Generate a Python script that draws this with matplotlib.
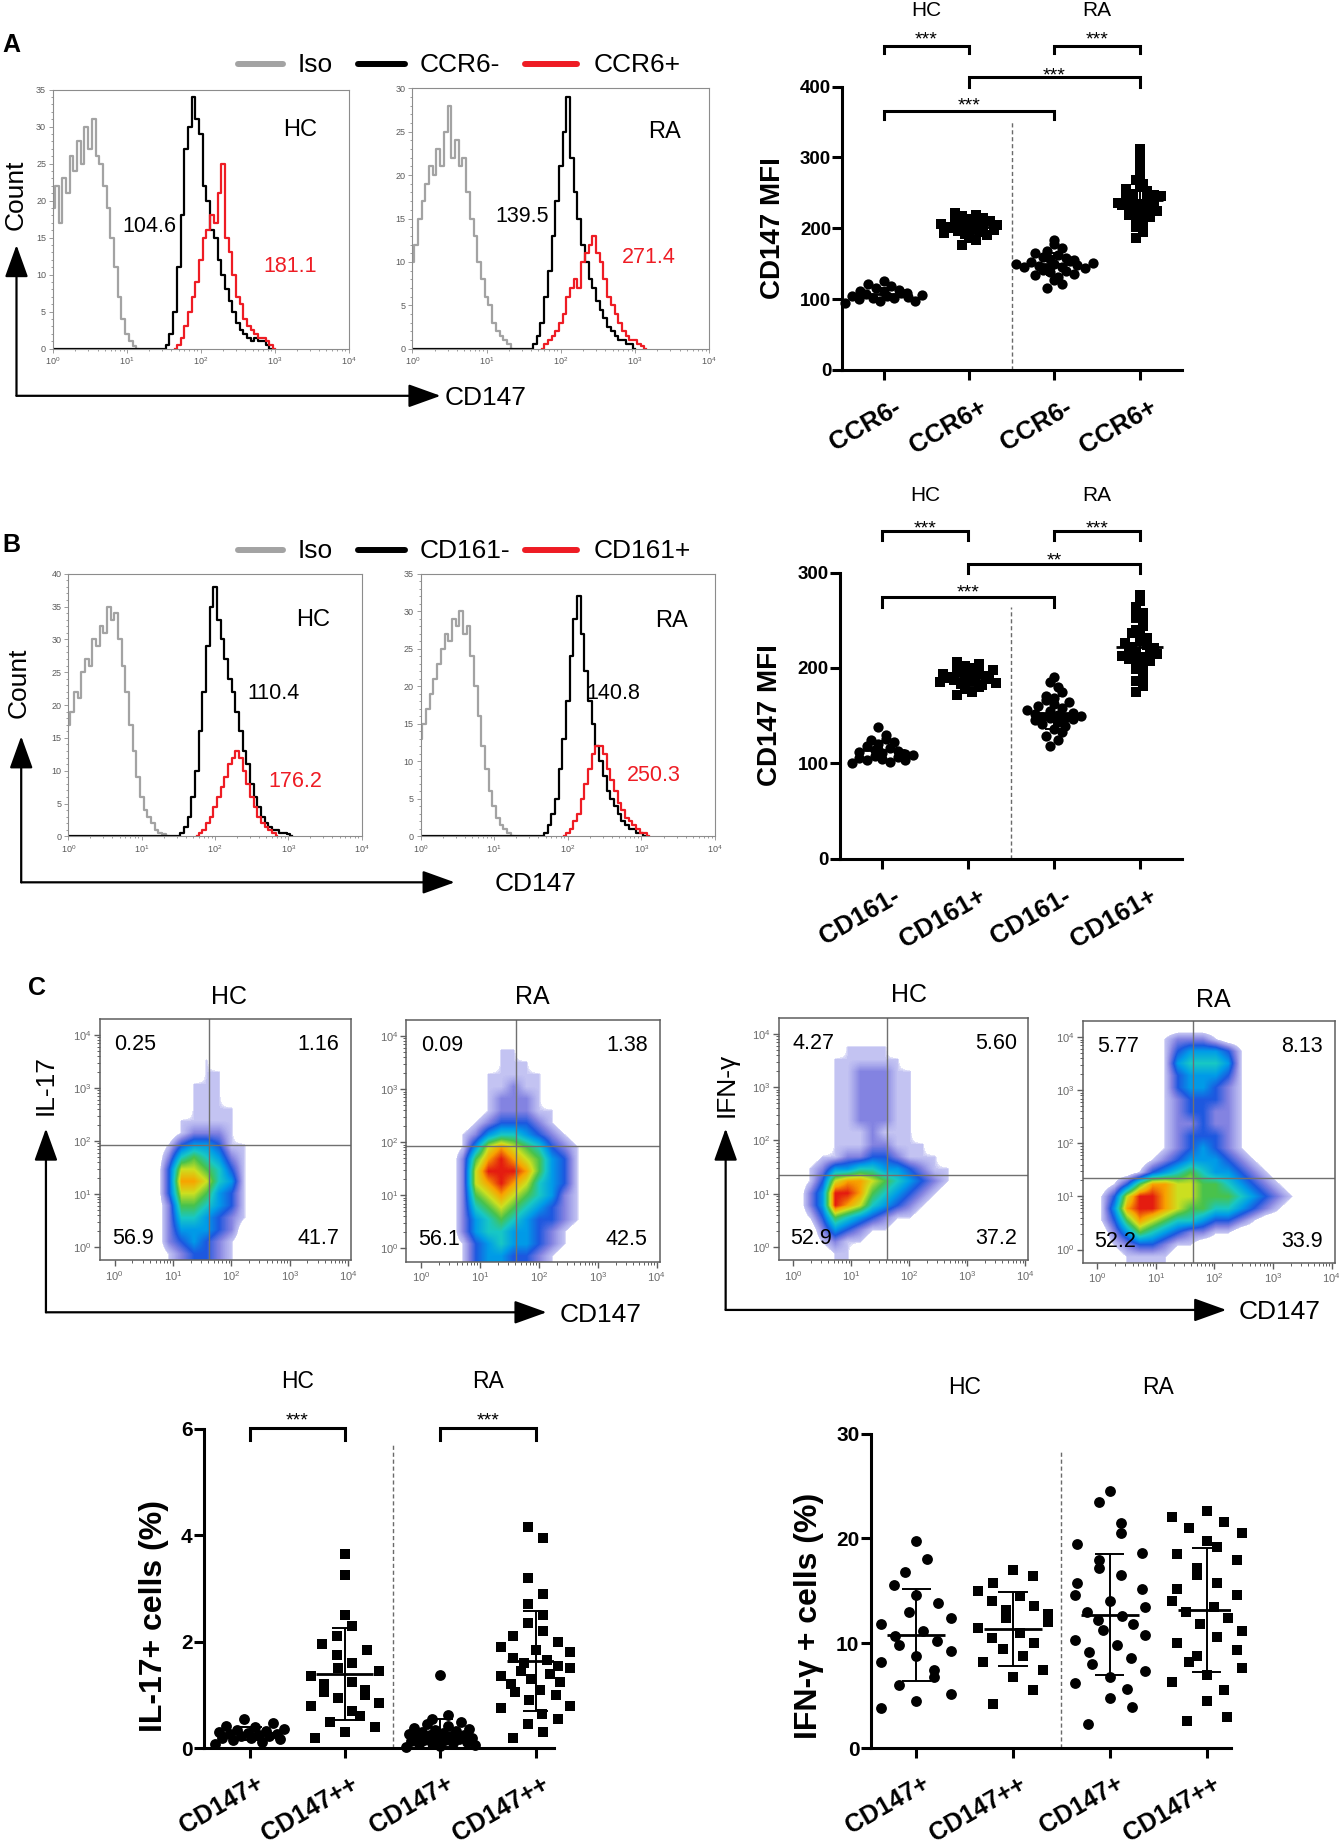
import numpy as np
import matplotlib
matplotlib.use("Agg")
import matplotlib.pyplot as plt
from matplotlib.colors import LinearSegmentedColormap, Normalize
from matplotlib.ticker import MultipleLocator, FixedLocator, NullFormatter
from matplotlib.transforms import ScaledTranslation

plt.rcParams["font.family"] = ["Liberation Sans", "DejaVu Sans"]
plt.rcParams["mathtext.fontset"] = "custom"
plt.rcParams["mathtext.rm"] = "Liberation Sans"
plt.rcParams["mathtext.it"] = "Liberation Sans:italic"
plt.rcParams["mathtext.bf"] = "Liberation Sans:bold"

# ---------------------------------------------------------------------------
# histogram counts, one value per 0.05-decade bin, first bin at *_from (log10)
HIST_BIN = 0.05
a_hc_iso_from, a_hc_iso = 0.0, [19, 22, 17, 23, 21, 26, 24, 28, 25, 30, 27, 31, 26, 25, 22, 19, 15, 11, 7, 4, 2, 1, 0.4]
a_hc_neg_from, a_hc_neg = 1.55, [0.5, 2, 5, 11, 18, 27, 30, 34, 31, 29, 22, 20, 16, 15, 12, 10, 8, 6.5, 5, 3.5, 2.5, 2, 1.5, 1, 1.5, 1, 1, 0.5]
a_hc_pos_from, a_hc_pos = 1.70, [0.5, 1.5, 3, 5, 7, 9, 12, 15, 16, 18, 17, 21, 25, 15, 13, 10, 7, 6, 4, 3, 2.5, 2, 1.5, 1.5, 1, 0.5]
a_ra_iso_from, a_ra_iso = 0.0, [10, 12, 15, 17, 19, 21, 20, 23, 21, 25, 28, 22, 24, 21, 22, 18, 15, 13, 10, 8, 6, 5, 3, 2, 1.5, 1, 0.5]
a_ra_neg_from, a_ra_neg = 1.65, [0.5, 1.5, 3, 6, 9, 13, 17, 21, 25, 29, 22, 18, 15, 12, 10, 8, 7, 5.5, 4.5, 3.5, 2.5, 2, 1.5, 1, 1, 0.5, 0.5]
a_ra_pos_from, a_ra_pos = 1.80, [0.5, 1, 1.5, 2, 3, 4, 6, 7, 8, 7, 10, 11, 12, 13, 11, 10, 8, 6, 5, 4, 3, 2, 1.5, 1, 1, 0.5, 0.3]

b_hc_iso_from, b_hc_iso = 0.0, [17, 19, 22, 21, 25, 27, 26, 30, 29, 32, 31, 35, 33, 34, 30, 26, 22, 17, 13, 9, 6, 4, 3, 2, 1, 0.5, 0.3]
b_hc_neg_from, b_hc_neg = 1.55, [0.5, 1.5, 3, 6, 10, 16, 22, 29, 35, 38, 33, 30, 27, 24, 22, 19, 16, 13, 11, 8, 6, 4.5, 3, 2, 1.5, 1, 1, 0.5, 0.5, 0.3]
b_hc_pos_from, b_hc_pos = 1.80, [0.5, 1, 2, 3, 4.5, 6, 7.5, 9, 11, 12, 13, 12, 10, 8, 6, 4.5, 3, 2, 1.5, 1, 0.5]
b_ra_iso_from, b_ra_iso = 0.0, [13, 15, 17, 19, 21, 23, 25, 27, 26, 29, 28, 30, 27, 28, 24, 20, 16, 12, 9, 6, 4, 2.5, 1.5, 1, 0.5]
b_ra_neg_from, b_ra_neg = 1.70, [0.5, 1.5, 3, 5, 9, 13, 18, 24, 29, 32, 27, 22, 18, 15, 12, 10, 8, 6, 5, 4, 3, 2, 1.5, 1, 1, 0.5, 0.5]
b_ra_pos_from, b_ra_pos = 2.00, [0.5, 1, 2, 3, 5, 7, 9, 11, 12, 12, 11, 9, 7.5, 6, 4.5, 3.5, 2.5, 2, 1.5, 1, 0.5, 0.5]

a_hist_mfi = {"HC": ("104.6", "181.1"), "RA": ("139.5", "271.4")}
b_hist_mfi = {"HC": ("110.4", "176.2"), "RA": ("140.8", "250.3")}

# per-donor MFI values
a_hc_ccr6neg = [95, 97, 98, 100, 101, 102, 103, 104, 105, 106, 107, 108, 109, 110, 111, 113, 115, 118, 121, 125]
a_hc_ccr6pos = [176, 184, 187, 190, 192, 194, 195, 196, 198, 199, 200, 201, 202, 203, 204, 205, 206, 208, 209, 211, 213, 215, 217, 219, 221]
a_ra_ccr6neg = [115, 122, 127, 131, 134, 136, 138, 140, 141, 143, 144, 145, 146, 147, 148, 149, 150, 151, 152, 154, 155, 157, 158, 160, 162, 165, 168, 172, 178, 184]
a_ra_ccr6pos = [186, 195, 202, 208, 212, 216, 219, 222, 224, 226, 228, 230, 232, 233, 235, 236, 238, 240, 241, 243, 245, 247, 249, 252, 255, 258, 262, 268, 276, 285, 298, 312]
a_labels = ["CCR6-", "CCR6+", "CCR6-", "CCR6+"]

b_hc_cd161neg = [100, 101, 103, 104, 105, 106, 107, 108, 109, 110, 111, 112, 113, 114, 116, 118, 120, 122, 124, 126, 130, 138]
b_hc_cd161pos = [172, 175, 178, 180, 182, 183, 184, 185, 186, 187, 188, 188, 189, 190, 191, 192, 193, 194, 195, 196, 198, 200, 202, 204, 206]
b_ra_cd161neg = [118, 124, 129, 133, 136, 139, 141, 143, 145, 146, 147, 148, 149, 150, 151, 152, 153, 155, 156, 158, 160, 162, 164, 166, 168, 171, 175, 180, 185, 190]
b_ra_cd161pos = [175, 181, 186, 191, 195, 199, 202, 205, 207, 209, 211, 213, 215, 216, 218, 219, 221, 222, 224, 226, 228, 231, 234, 237, 240, 244, 248, 253, 258, 264, 270, 276]
b_labels = ["CD161-", "CD161+", "CD161-", "CD161+"]

# percent positive cells
il17_hc_cd147 = [0.08, 0.12, 0.15, 0.17, 0.19, 0.2, 0.22, 0.23, 0.25, 0.26, 0.27, 0.28, 0.3, 0.32, 0.34, 0.36, 0.39, 0.42, 0.48, 0.55]
il17_hc_cd147hi = [0.2, 0.3, 0.4, 0.5, 0.6, 0.7, 0.8, 0.85, 0.95, 1.0, 1.05, 1.1, 1.2, 1.25, 1.35, 1.45, 1.5, 1.6, 1.75, 1.85, 1.95, 2.1, 2.3, 2.5, 3.25, 3.65]
il17_ra_cd147 = [0.02, 0.04, 0.06, 0.08, 0.09, 0.1, 0.12, 0.13, 0.15, 0.16, 0.18, 0.19, 0.2, 0.21, 0.22, 0.24, 0.25, 0.27, 0.28, 0.3, 0.32, 0.34, 0.36, 0.38, 0.42, 0.46, 0.5, 0.55, 0.62, 1.38]
il17_ra_cd147hi = [0.2, 0.3, 0.45, 0.55, 0.65, 0.75, 0.8, 0.9, 1.0, 1.05, 1.1, 1.2, 1.25, 1.3, 1.35, 1.4, 1.45, 1.5, 1.55, 1.6, 1.65, 1.7, 1.8, 1.85, 1.9, 2.0, 2.1, 2.2, 2.35, 2.5, 2.7, 2.9, 3.2, 3.95, 4.15]
ifng_hc_cd147 = [3.8, 4.5, 5.2, 6.0, 6.8, 7.5, 8.2, 8.8, 9.3, 9.8, 10.2, 10.7, 11.2, 11.8, 12.4, 13.0, 13.8, 14.6, 15.6, 16.8, 18.0, 19.8]
ifng_hc_cd147hi = [4.2, 5.5, 6.8, 7.5, 8.2, 8.8, 9.5, 10.0, 10.5, 11.0, 11.5, 12.0, 12.4, 12.8, 13.2, 13.6, 14.0, 14.5, 15.0, 15.8, 16.4, 17.0]
ifng_ra_cd147 = [2.3, 3.9, 4.8, 5.6, 6.2, 6.8, 7.4, 8.0, 8.6, 9.2, 9.8, 10.3, 10.8, 11.3, 11.8, 12.2, 12.6, 13.0, 13.5, 14.0, 14.6, 15.2, 15.8, 16.5, 17.2, 17.9, 18.6, 19.5, 20.5, 21.5, 23.5, 24.5]
ifng_ra_cd147hi = [2.6, 3.0, 4.5, 5.5, 6.3, 7.0, 7.6, 8.2, 8.8, 9.4, 10.0, 10.6, 11.2, 11.8, 12.4, 13.0, 13.5, 14.0, 14.6, 15.2, 15.8, 16.5, 17.2, 17.9, 18.5, 19.2, 19.8, 20.5, 21.0, 21.6, 22.0, 22.6]
c_labels = ["CD147+", "CD147++", "CD147+", "CD147++"]

# flow dot-plot density (0 = empty ... 9 = densest), 20x20 cells, top row first
il17_hc_density = [
    "00000000000000000000", "00000000000000000000", "00000000000000000000",
    "00000000100000000000", "00000000110000000000", "00000001110000000000",
    "00000001110000000000", "00000001111000000000", "00000011111000000000",
    "00000012221000000000", "00000134431100000000", "00000256542100000000",
    "00000377653100000000", "00000388754100000000", "00000377643100000000",
    "00000266543100000000", "00000255432100000000", "00000244432000000000",
    "00000234321000000000", "00000123321000000000"]
il17_ra_density = [
    "00000000000000000000", "00000000000000000000", "00000001100000000000",
    "00000001110000000000", "00000011111000000000", "00000011211000000000",
    "00000012221000000000", "00000012221100000000", "00000123332100000000",
    "00001245543210000000", "00001478765321000000", "00002689876431000000",
    "00002799986431000000", "00002789875431000000", "00002678765421000000",
    "00002567654321000000", "00002456543321000000", "00002455443210000000",
    "00001345443210000000", "00001344332100000000"]
ifng_hc_density = [
    "00000000000000000000", "00000000000000000000", "00000111100000000000",
    "00001111110000000000", "00001122211000000000", "00001122211000000000",
    "00001122211000000000", "00001122211000000000", "00001122211000000000",
    "00001112111000000000", "00001112211100000000", "00011223321110000000",
    "00124455443211000000", "00137887654321000000", "00249986543210000000",
    "00249875432100000000", "00136543211000000000", "00024321100000000000",
    "00012110000000000000", "00001100000000000000"]
ifng_ra_density = [
    "00000000000000000000", "00000012221000000000", "00000013444310000000",
    "00000014555410000000", "00000013444310000000", "00000013443210000000",
    "00000012333210000000", "00000012332210000000", "00000012232210000000",
    "00000012333210000000", "00000012343210000000", "00000123444321000000",
    "00001345654432100000", "00136887766543210000", "01379987766654321000",
    "01489987665543210000", "01368765543321000000", "00246543221100000000",
    "00123321100000000000", "00011110000000000000"]

# quadrant gates (log10 x, log10 y) and quadrant percentages (UL, UR, LL, LR)
il17_hc_gate, il17_hc_quads = (1.61, 1.93), ["0.25", "1.16", "56.9", "41.7"]
il17_ra_gate, il17_ra_quads = (1.61, 1.93), ["0.09", "1.38", "56.1", "42.5"]
ifng_hc_gate, ifng_hc_quads = (1.62, 1.36), ["4.27", "5.60", "52.9", "37.2"]
ifng_ra_gate, ifng_ra_quads = (1.64, 1.35), ["5.77", "8.13", "52.2", "33.9"]

# ---------------------------------------------------------------------------
S = 1.178                      # layout below is in reference units (px / S)
PW, PH = 1339 / S, 1844 / S

fig = plt.figure(figsize=(13.39, 18.44), dpi=100)


def box(l, t, r, b):
    return [l / PW, 1 - b / PH, (r - l) / PW, (b - t) / PH]


GRAY, RED = "#a3a3a3", "#ee1c24"


def curve(ax, start, counts, color, from_zero=False):
    e = list(start + HIST_BIN * np.arange(len(counts)))
    c = list(counts)
    if start > 0:
        e = [start - HIST_BIN] + e
        c = [0] + c
        if from_zero:
            e = [0.0] + e
            c = [0] + c
    e.append(e[-1] + HIST_BIN)
    c.append(0)
    ax.plot(10 ** np.array(e), c, drawstyle="steps-mid", color=color, lw=1.6)


def histo(rect, iso, neg, pos, ymax):
    ax = fig.add_axes(box(*rect))
    curve(ax, *iso, GRAY)
    curve(ax, *neg, "black", from_zero=True)
    curve(ax, *pos, RED)
    ax.set_xscale("log")
    ax.set_xlim(1, 1e4)
    ax.set_ylim(0, ymax)
    ax.set_yticks(range(0, ymax + 1, 5))
    ax.yaxis.set_minor_locator(MultipleLocator(1))
    for sp in ax.spines.values():
        sp.set_color("#8c8c8c")
        sp.set_linewidth(0.8)
    ax.tick_params(which="both", colors="#8c8c8c", labelcolor="#5a5a5a",
                   labelsize=6.5, width=0.6, pad=2)
    ax.tick_params(which="major", length=3)
    ax.tick_params(which="minor", length=1.5)
    return ax


histo((45, 76, 296, 296), (a_hc_iso_from, a_hc_iso), (a_hc_neg_from, a_hc_neg), (a_hc_pos_from, a_hc_pos), 35)
histo((350, 75, 602, 296), (a_ra_iso_from, a_ra_iso), (a_ra_neg_from, a_ra_neg), (a_ra_pos_from, a_ra_pos), 30)
histo((58, 487, 307, 710), (b_hc_iso_from, b_hc_iso), (b_hc_neg_from, b_hc_neg), (b_hc_pos_from, b_hc_pos), 40)
histo((357, 487, 607, 710), (b_ra_iso_from, b_ra_iso), (b_ra_neg_from, b_ra_neg), (b_ra_pos_from, b_ra_pos), 35)


# ---------------------------------------------------------------------------
def spread_x(ax, xc, vals, diam, bin_fac, space_fac, max_half):
    """Column-scatter layout: points in the same y band are spread sideways."""
    pts = ax.transData.transform(np.column_stack([np.full(len(vals), float(xc)), vals]))
    y = pts[:, 1]
    band = np.floor((y - y.min()) / (diam * bin_fac)).astype(int)
    off = np.zeros(len(vals))
    for b in np.unique(band):
        idx = np.where(band == b)[0]
        idx = idx[np.argsort(y[idx])]
        k = len(idx)
        if k > 1:
            sp = min(diam * space_fac, 2 * max_half / (k - 1))
            slots = (np.arange(k) - (k - 1) / 2) * sp
            order = np.argsort((np.arange(k) * 0.618 + 0.31 * b) % 1.0)
            off[idx] = slots[order]
    back = ax.transData.inverted().transform(np.column_stack([pts[:, 0] + off, y]))
    return back[:, 0]


def star(ax, x, y, s, fs=14):
    ax.text(x, y, s, ha="center", va="baseline", fontsize=fs, clip_on=False,
            transform=ax.transData + ScaledTranslation(0, -0.62 * fs / 72, fig.dpi_scale_trans))


def bracket(ax, x1, x2, ytop, ytail, s, ytext):
    ax.plot([x1, x1, x2, x2], [ytail, ytop, ytop, ytail], color="black", lw=2.2,
            clip_on=False, solid_joinstyle="miter")
    star(ax, (x1 + x2) / 2, ytext, s)


def dot_panel(rect, xlim, ymax, ystep, groups, labels, tick_fs, xlab_fs, xlab_off,
              mw, cw, dash_top, ms=7.4, bin_fac=1.2, space_fac=0.85, half=0.42):
    ax = fig.add_axes(box(*rect))
    ax.set_xlim(*xlim)
    ax.set_ylim(0, ymax)
    cat_px = ax.transData.transform([[2, 0]])[0, 0] - ax.transData.transform([[1, 0]])[0, 0]
    for i, vals in enumerate(groups, start=1):
        mk = "o" if i % 2 else "s"
        size = ms if mk == "o" else ms * 0.92
        xs = spread_x(ax, i, vals, size * 100 / 72, bin_fac, space_fac, half * cat_px)
        ax.scatter(xs, vals, marker=mk, s=size ** 2, color="black", linewidths=0,
                   zorder=3, clip_on=False)
        m, sd = np.mean(vals), np.std(vals, ddof=1)
        ax.hlines(m, i - mw, i + mw, color="black", lw=2.0, zorder=4)
        ax.vlines(i, m - sd, m + sd, color="black", lw=1.4, zorder=4)
        ax.hlines([m - sd, m + sd], i - cw, i + cw, color="black", lw=1.4, zorder=4)
    ax.plot([2.5, 2.5], [0, dash_top], ls=(0, (3, 2)), color="#6a6a6a", lw=1.0)
    for side in ("top", "right"):
        ax.spines[side].set_visible(False)
    for side in ("left", "bottom"):
        ax.spines[side].set_linewidth(2.2)
    ax.set_yticks(np.arange(0, ymax + 0.01, ystep))
    ax.set_xticks([1, 2, 3, 4])
    ax.tick_params(width=2.2, length=7, labelsize=tick_fs, pad=1)
    for lbl in ax.get_yticklabels():
        lbl.set_fontweight("bold")
    ax.set_xticklabels(labels, rotation=30, ha="right", va="top", rotation_mode="anchor",
                       fontsize=xlab_fs, fontweight="bold")
    shift = ScaledTranslation(xlab_off[0] / 72, xlab_off[1] / 72, fig.dpi_scale_trans)
    for lbl in ax.get_xticklabels():
        lbl.set_transform(lbl.get_transform() + shift)
    return ax


ax = dot_panel((715, 73.6, 1003, 314), (0.517, 4.49), 400, 100,
               [a_hc_ccr6neg, a_hc_ccr6pos, a_ra_ccr6neg, a_ra_ccr6pos], a_labels,
               13.5, 18.5, (7, -10), 0.27, 0.1, 351, bin_fac=0.9, space_fac=0.75, half=0.45)
bracket(ax, 1, 2, 458, 447, "***", 476)
bracket(ax, 3, 4, 458, 447, "***", 476)
bracket(ax, 2, 4, 413, 400, "***", 426)
bracket(ax, 1, 3, 366, 355, "***", 383)
ax.text(1.5, 508, "HC", ha="center", va="center", fontsize=15, clip_on=False)
ax.text(3.5, 508, "RA", ha="center", va="center", fontsize=15, clip_on=False)

ax = dot_panel((713, 486, 1003, 729), (0.505, 4.49), 300, 100,
               [b_hc_cd161neg, b_hc_cd161pos, b_ra_cd161neg, b_ra_cd161pos], b_labels,
               13.5, 18.5, (7, -10), 0.27, 0.1, 264, bin_fac=0.9, space_fac=0.75, half=0.45)
bracket(ax, 1, 2, 343, 334, "***", 354)
bracket(ax, 3, 4, 343, 334, "***", 354)
bracket(ax, 2, 4, 309, 299, "**", 320)
bracket(ax, 1, 3, 274, 264, "***", 286)
ax.text(1.5, 381, "HC", ha="center", va="center", fontsize=15, clip_on=False)
ax.text(3.5, 381, "RA", ha="center", va="center", fontsize=15, clip_on=False)

ax = dot_panel((173, 1213, 470, 1484), (0.52, 4.19), 6, 2,
               [il17_hc_cd147, il17_hc_cd147hi, il17_ra_cd147, il17_ra_cd147hi], c_labels,
               15, 18, (4, -9), 0.3, 0.13, 5.73, ms=7.8, bin_fac=2.4, space_fac=1.5, half=0.36)
bracket(ax, 1, 2, 6.02, 5.8, "***", 6.29)
bracket(ax, 3, 4, 6.02, 5.8, "***", 6.29)
ax.text(1.5, 6.89, "HC", ha="center", va="center", fontsize=16.5, clip_on=False)
ax.text(3.5, 6.89, "RA", ha="center", va="center", fontsize=16.5, clip_on=False)

ax = dot_panel((739, 1217, 1045, 1484), (0.53, 4.25), 30, 10,
               [ifng_hc_cd147, ifng_hc_cd147hi, ifng_ra_cd147, ifng_ra_cd147hi], c_labels,
               15, 18, (4, -9), 0.3, 0.15, 28.2, ms=7.8, bin_fac=3.0, space_fac=2.0, half=0.36)
ax.text(1.5, 34.4, "HC", ha="center", va="center", fontsize=16.5, clip_on=False)
ax.text(3.5, 34.4, "RA", ha="center", va="center", fontsize=16.5, clip_on=False)

# ---------------------------------------------------------------------------
flow_stops = [(0.9, (0.62, 0.62, 0.93, 0.28)), (1, (0.52, 0.52, 0.90, 0.50)),
              (2, (0.32, 0.32, 0.84, 0.72)), (3, "#1c58e0"), (4, "#009ce8"),
              (5, "#18c8c4"), (6, "#48c24c"), (7, "#cce020"), (8, "#f8a400"),
              (9, "#e41c10")]
flow_cmap = LinearSegmentedColormap.from_list(
    "flow", [((v - 0.9) / 8.1, c) for v, c in flow_stops])
flow_cmap.set_under((1, 1, 1, 0))
flow_norm = Normalize(0.9, 9)
FX = (-0.25, 4.05)
FY = (-0.25, 4.3)


def flow_panel(rect, rows, gate):
    ax = fig.add_axes(box(*rect))
    dens = np.array([[int(ch) for ch in r.ljust(20, "0")[:20]] for r in rows], float)
    ax.imshow(dens, extent=(FX[0], FX[1], FY[0], FY[1]), origin="upper", cmap=flow_cmap,
              norm=flow_norm, interpolation="bilinear", aspect="auto", zorder=1)
    ax.axvline(gate[0], color="#707070", lw=1.0, zorder=2)
    ax.axhline(gate[1], color="#707070", lw=1.0, zorder=2)
    ax.set_xlim(*FX)
    ax.set_ylim(*FY)
    minor = [d + np.log10(k) for d in range(4) for k in range(2, 10)]
    for axis in (ax.xaxis, ax.yaxis):
        axis.set_major_locator(FixedLocator([0, 1, 2, 3, 4]))
        axis.set_minor_locator(FixedLocator(minor))
        axis.set_minor_formatter(NullFormatter())
    ax.set_xticklabels([r"$10^{%d}$" % d for d in range(5)])
    ax.set_yticklabels([r"$10^{%d}$" % d for d in range(5)])
    for sp in ax.spines.values():
        sp.set_color("#5e5e5e")
        sp.set_linewidth(1.1)
    ax.tick_params(which="both", colors="#5e5e5e", labelcolor="#6a6a6a", labelsize=8, pad=2)
    ax.tick_params(which="major", length=4, width=1.0)
    ax.tick_params(which="minor", length=2.5, width=0.7)
    return ax


flow_rects = [(85, 865, 298, 1070), (345, 866, 560, 1071), (661, 864, 873, 1070), (919, 867, 1133, 1072)]
flow_sets = [(il17_hc_density, il17_hc_gate, il17_hc_quads), (il17_ra_density, il17_ra_gate, il17_ra_quads),
             (ifng_hc_density, ifng_hc_gate, ifng_hc_quads), (ifng_ra_density, ifng_ra_gate, ifng_ra_quads)]
for rect, (rows, gate, quads) in zip(flow_rects, flow_sets):
    fax = flow_panel(rect, rows, gate)
    for (fx, fy), s in zip([(0.14, 0.895), (0.87, 0.895), (0.13, 0.09), (0.87, 0.09)], quads):
        fax.text(fx, fy, s, transform=fax.transAxes, ha="center", va="center", fontsize=15.5, zorder=5)

# ---------------------------------------------------------------------------
ov = fig.add_axes([0, 0, 1, 1])
ov.set_xlim(0, PW)
ov.set_ylim(PH, 0)
ov.axis("off")
ov.patch.set_alpha(0)


def t(x, y, s, fs, **kw):
    ov.text(x, y, s, fontsize=fs, ha=kw.pop("ha", "center"), va=kw.pop("va", "center"), **kw)


def arrow(x0, y0, x1, y1):
    ov.annotate("", xy=(x1, y1), xytext=(x0, y0),
                arrowprops=dict(arrowstyle="-|>,head_length=1.0,head_width=0.36",
                                mutation_scale=20, lw=1.6, color="black",
                                shrinkA=0, shrinkB=0))


# panel letters
t(2, 38, "A", 18, ha="left", fontweight="bold")
t(2, 463, "B", 18, ha="left", fontweight="bold")
t(24, 839, "C", 18, ha="left", fontweight="bold")

# histogram legends
for ly, names in ((54, ("CCR6-", "CCR6+")), (467, ("CD161-", "CD161+"))):
    ov.plot([202, 240], [ly, ly], color=GRAY, lw=4.3, solid_capstyle="round")
    ov.plot([304, 344], [ly, ly], color="black", lw=4.3, solid_capstyle="round")
    ov.plot([446, 490], [ly, ly], color=RED, lw=4.3, solid_capstyle="round")
    t(253, ly + 1, "Iso", 19, ha="left")
    t(356, ly + 1, names[0], 19, ha="left")
    t(504, ly + 1, names[1], 19, ha="left")

# histogram annotations
t(255, 110, "HC", 17)
t(127, 192, a_hist_mfi["HC"][0], 15.5)
t(246, 226, a_hist_mfi["HC"][1], 15.5, color=RED)
t(564, 112, "RA", 17)
t(443, 184, a_hist_mfi["RA"][0], 15.5)
t(551, 219, a_hist_mfi["RA"][1], 15.5, color=RED)
t(266, 526, "HC", 17)
t(232, 589, b_hist_mfi["HC"][0], 15.5)
t(251, 663, b_hist_mfi["HC"][1], 15.5, color=RED)
t(570, 527, "RA", 17)
t(521, 589, b_hist_mfi["RA"][0], 15.5)
t(555, 658, b_hist_mfi["RA"][1], 15.5, color=RED)

# axis arrows and names
arrow(14, 336, 14, 208)
arrow(14, 336, 374, 336)
t(13, 165, "Count", 19, rotation=90)
t(412, 338, "CD147", 19)
arrow(18, 749, 18, 625)
arrow(18, 749, 386, 749)
t(16, 580, "Count", 19, rotation=90)
t(455, 750, "CD147", 19)
arrow(39, 1114, 39, 958)
arrow(39, 1114, 464, 1114)
t(39, 921, "IL-17", 19, rotation=90)
t(510, 1116, "CD147", 19)
arrow(616, 1112, 616, 958)
arrow(616, 1112, 1041, 1112)
t(617, 921, "IFN-γ", 19, rotation=90)
t(1086, 1114, "CD147", 19)

# flow titles
t(194, 846, "HC", 18)
t(452, 846, "RA", 18)
t(772, 845, "HC", 18)
t(1030, 849, "RA", 18)

# dot-plot axis names
t(656, 194, "CD147 MFI", 20, rotation=90, fontweight="bold")
t(654, 607, "CD147 MFI", 20, rotation=90, fontweight="bold")
t(131, 1372, "IL-17+ cells (%)", 23, rotation=90, fontweight="bold")
t(687, 1372, "IFN-γ + cells (%)", 23, rotation=90, fontweight="bold")

fig.savefig("out.png", dpi=100)
